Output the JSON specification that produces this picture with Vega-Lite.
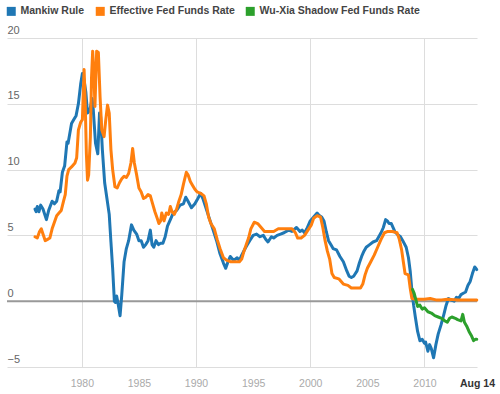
{
  "$schema": "https://vega.github.io/schema/vega-lite/v6.json",
  "width": 470,
  "height": 329,
  "autosize": {"type": "none"},
  "padding": {"left": 7, "top": 38, "right": 23, "bottom": 27},
  "background": "white",
  "config": {
    "view": {"stroke": null},
    "font": "Liberation Sans"
  },
  "data": {
    "values": [
      {"series":"Mankiw Rule","year":1975.9,"rate":7.0},
      {"series":"Mankiw Rule","year":1976.0,"rate":6.8},
      {"series":"Mankiw Rule","year":1976.1,"rate":7.2},
      {"series":"Mankiw Rule","year":1976.25,"rate":6.8},
      {"series":"Mankiw Rule","year":1976.4,"rate":7.3},
      {"series":"Mankiw Rule","year":1976.6,"rate":7.0},
      {"series":"Mankiw Rule","year":1976.9,"rate":6.2},
      {"series":"Mankiw Rule","year":1977.1,"rate":6.9},
      {"series":"Mankiw Rule","year":1977.4,"rate":7.6},
      {"series":"Mankiw Rule","year":1977.6,"rate":7.4},
      {"series":"Mankiw Rule","year":1977.8,"rate":7.6},
      {"series":"Mankiw Rule","year":1978.0,"rate":8.4},
      {"series":"Mankiw Rule","year":1978.1,"rate":8.3},
      {"series":"Mankiw Rule","year":1978.3,"rate":9.8},
      {"series":"Mankiw Rule","year":1978.5,"rate":10.3},
      {"series":"Mankiw Rule","year":1978.7,"rate":12.1},
      {"series":"Mankiw Rule","year":1978.8,"rate":12.0},
      {"series":"Mankiw Rule","year":1979.1,"rate":13.5},
      {"series":"Mankiw Rule","year":1979.3,"rate":13.8},
      {"series":"Mankiw Rule","year":1979.5,"rate":14.1},
      {"series":"Mankiw Rule","year":1979.7,"rate":15.0},
      {"series":"Mankiw Rule","year":1979.9,"rate":16.5},
      {"series":"Mankiw Rule","year":1980.05,"rate":17.3},
      {"series":"Mankiw Rule","year":1980.2,"rate":16.8},
      {"series":"Mankiw Rule","year":1980.35,"rate":15.9},
      {"series":"Mankiw Rule","year":1980.5,"rate":14.3},
      {"series":"Mankiw Rule","year":1980.7,"rate":14.5},
      {"series":"Mankiw Rule","year":1980.9,"rate":15.4},
      {"series":"Mankiw Rule","year":1981.0,"rate":14.6},
      {"series":"Mankiw Rule","year":1981.2,"rate":12.0},
      {"series":"Mankiw Rule","year":1981.4,"rate":11.2},
      {"series":"Mankiw Rule","year":1981.55,"rate":14.3},
      {"series":"Mankiw Rule","year":1981.65,"rate":14.0},
      {"series":"Mankiw Rule","year":1981.8,"rate":11.5},
      {"series":"Mankiw Rule","year":1982.0,"rate":9.0},
      {"series":"Mankiw Rule","year":1982.2,"rate":7.8},
      {"series":"Mankiw Rule","year":1982.4,"rate":6.6},
      {"series":"Mankiw Rule","year":1982.55,"rate":4.5},
      {"series":"Mankiw Rule","year":1982.7,"rate":2.5},
      {"series":"Mankiw Rule","year":1982.85,"rate":0.0},
      {"series":"Mankiw Rule","year":1982.95,"rate":-0.1},
      {"series":"Mankiw Rule","year":1983.05,"rate":0.4},
      {"series":"Mankiw Rule","year":1983.2,"rate":-0.3},
      {"series":"Mankiw Rule","year":1983.35,"rate":-1.1},
      {"series":"Mankiw Rule","year":1983.5,"rate":0.5},
      {"series":"Mankiw Rule","year":1983.7,"rate":3.0},
      {"series":"Mankiw Rule","year":1983.9,"rate":4.0},
      {"series":"Mankiw Rule","year":1984.1,"rate":4.6},
      {"series":"Mankiw Rule","year":1984.35,"rate":5.8},
      {"series":"Mankiw Rule","year":1984.55,"rate":5.4},
      {"series":"Mankiw Rule","year":1984.8,"rate":5.1},
      {"series":"Mankiw Rule","year":1985.0,"rate":4.6},
      {"series":"Mankiw Rule","year":1985.2,"rate":4.6},
      {"series":"Mankiw Rule","year":1985.4,"rate":4.1},
      {"series":"Mankiw Rule","year":1985.6,"rate":4.3},
      {"series":"Mankiw Rule","year":1985.8,"rate":4.6},
      {"series":"Mankiw Rule","year":1986.0,"rate":5.4},
      {"series":"Mankiw Rule","year":1986.15,"rate":4.3},
      {"series":"Mankiw Rule","year":1986.3,"rate":4.1},
      {"series":"Mankiw Rule","year":1986.5,"rate":4.6},
      {"series":"Mankiw Rule","year":1986.7,"rate":4.3},
      {"series":"Mankiw Rule","year":1986.9,"rate":4.4},
      {"series":"Mankiw Rule","year":1987.1,"rate":4.4},
      {"series":"Mankiw Rule","year":1987.3,"rate":4.9},
      {"series":"Mankiw Rule","year":1987.5,"rate":5.7},
      {"series":"Mankiw Rule","year":1987.8,"rate":6.3},
      {"series":"Mankiw Rule","year":1988.0,"rate":6.7},
      {"series":"Mankiw Rule","year":1988.3,"rate":6.9},
      {"series":"Mankiw Rule","year":1988.6,"rate":7.3},
      {"series":"Mankiw Rule","year":1988.9,"rate":7.4},
      {"series":"Mankiw Rule","year":1989.1,"rate":7.9},
      {"series":"Mankiw Rule","year":1989.3,"rate":7.6},
      {"series":"Mankiw Rule","year":1989.6,"rate":7.1},
      {"series":"Mankiw Rule","year":1989.9,"rate":7.4},
      {"series":"Mankiw Rule","year":1990.1,"rate":7.7},
      {"series":"Mankiw Rule","year":1990.4,"rate":8.2},
      {"series":"Mankiw Rule","year":1990.6,"rate":7.8},
      {"series":"Mankiw Rule","year":1990.9,"rate":7.0},
      {"series":"Mankiw Rule","year":1991.2,"rate":6.2},
      {"series":"Mankiw Rule","year":1991.5,"rate":5.4},
      {"series":"Mankiw Rule","year":1991.8,"rate":4.6},
      {"series":"Mankiw Rule","year":1992.1,"rate":3.6},
      {"series":"Mankiw Rule","year":1992.4,"rate":2.9},
      {"series":"Mankiw Rule","year":1992.6,"rate":2.5},
      {"series":"Mankiw Rule","year":1992.8,"rate":3.0},
      {"series":"Mankiw Rule","year":1993.0,"rate":3.4},
      {"series":"Mankiw Rule","year":1993.3,"rate":3.1},
      {"series":"Mankiw Rule","year":1993.6,"rate":3.3},
      {"series":"Mankiw Rule","year":1993.8,"rate":3.1},
      {"series":"Mankiw Rule","year":1994.0,"rate":3.5},
      {"series":"Mankiw Rule","year":1994.3,"rate":4.0},
      {"series":"Mankiw Rule","year":1994.5,"rate":4.3},
      {"series":"Mankiw Rule","year":1994.7,"rate":4.6},
      {"series":"Mankiw Rule","year":1995.0,"rate":5.0},
      {"series":"Mankiw Rule","year":1995.3,"rate":5.1},
      {"series":"Mankiw Rule","year":1995.6,"rate":4.9},
      {"series":"Mankiw Rule","year":1995.9,"rate":5.0},
      {"series":"Mankiw Rule","year":1996.1,"rate":4.7},
      {"series":"Mankiw Rule","year":1996.3,"rate":4.5},
      {"series":"Mankiw Rule","year":1996.6,"rate":4.9},
      {"series":"Mankiw Rule","year":1996.8,"rate":4.8},
      {"series":"Mankiw Rule","year":1997.1,"rate":5.0},
      {"series":"Mankiw Rule","year":1997.4,"rate":5.1},
      {"series":"Mankiw Rule","year":1997.7,"rate":5.2},
      {"series":"Mankiw Rule","year":1998.1,"rate":5.4},
      {"series":"Mankiw Rule","year":1998.4,"rate":5.3},
      {"series":"Mankiw Rule","year":1998.8,"rate":5.6},
      {"series":"Mankiw Rule","year":1999.1,"rate":5.3},
      {"series":"Mankiw Rule","year":1999.3,"rate":5.4},
      {"series":"Mankiw Rule","year":1999.5,"rate":5.2},
      {"series":"Mankiw Rule","year":1999.7,"rate":5.5},
      {"series":"Mankiw Rule","year":2000.0,"rate":6.1},
      {"series":"Mankiw Rule","year":2000.3,"rate":6.4},
      {"series":"Mankiw Rule","year":2000.6,"rate":6.7},
      {"series":"Mankiw Rule","year":2000.8,"rate":6.5},
      {"series":"Mankiw Rule","year":2001.0,"rate":6.4},
      {"series":"Mankiw Rule","year":2001.2,"rate":6.1},
      {"series":"Mankiw Rule","year":2001.4,"rate":5.3},
      {"series":"Mankiw Rule","year":2001.6,"rate":4.6},
      {"series":"Mankiw Rule","year":2001.8,"rate":4.3},
      {"series":"Mankiw Rule","year":2002.0,"rate":4.0},
      {"series":"Mankiw Rule","year":2002.3,"rate":3.9},
      {"series":"Mankiw Rule","year":2002.6,"rate":3.4},
      {"series":"Mankiw Rule","year":2002.9,"rate":3.0},
      {"series":"Mankiw Rule","year":2003.2,"rate":2.3},
      {"series":"Mankiw Rule","year":2003.4,"rate":1.9},
      {"series":"Mankiw Rule","year":2003.6,"rate":1.8},
      {"series":"Mankiw Rule","year":2003.8,"rate":1.9},
      {"series":"Mankiw Rule","year":2004.1,"rate":2.3},
      {"series":"Mankiw Rule","year":2004.3,"rate":2.9},
      {"series":"Mankiw Rule","year":2004.5,"rate":3.4},
      {"series":"Mankiw Rule","year":2004.7,"rate":3.8},
      {"series":"Mankiw Rule","year":2004.9,"rate":4.1},
      {"series":"Mankiw Rule","year":2005.2,"rate":4.3},
      {"series":"Mankiw Rule","year":2005.5,"rate":4.5},
      {"series":"Mankiw Rule","year":2005.8,"rate":4.6},
      {"series":"Mankiw Rule","year":2006.0,"rate":4.9},
      {"series":"Mankiw Rule","year":2006.2,"rate":5.2},
      {"series":"Mankiw Rule","year":2006.4,"rate":5.6},
      {"series":"Mankiw Rule","year":2006.6,"rate":6.2},
      {"series":"Mankiw Rule","year":2006.75,"rate":6.1},
      {"series":"Mankiw Rule","year":2006.9,"rate":5.9},
      {"series":"Mankiw Rule","year":2007.1,"rate":5.9},
      {"series":"Mankiw Rule","year":2007.4,"rate":5.3},
      {"series":"Mankiw Rule","year":2007.6,"rate":5.1},
      {"series":"Mankiw Rule","year":2007.9,"rate":4.9},
      {"series":"Mankiw Rule","year":2008.1,"rate":4.6},
      {"series":"Mankiw Rule","year":2008.4,"rate":4.1},
      {"series":"Mankiw Rule","year":2008.6,"rate":3.3},
      {"series":"Mankiw Rule","year":2008.75,"rate":2.3},
      {"series":"Mankiw Rule","year":2008.9,"rate":0.8},
      {"series":"Mankiw Rule","year":2009.05,"rate":-0.3},
      {"series":"Mankiw Rule","year":2009.2,"rate":-1.2},
      {"series":"Mankiw Rule","year":2009.4,"rate":-2.3},
      {"series":"Mankiw Rule","year":2009.6,"rate":-3.0},
      {"series":"Mankiw Rule","year":2009.8,"rate":-2.9},
      {"series":"Mankiw Rule","year":2010.0,"rate":-3.2},
      {"series":"Mankiw Rule","year":2010.1,"rate":-3.1},
      {"series":"Mankiw Rule","year":2010.3,"rate":-3.8},
      {"series":"Mankiw Rule","year":2010.45,"rate":-3.3},
      {"series":"Mankiw Rule","year":2010.6,"rate":-3.6},
      {"series":"Mankiw Rule","year":2010.8,"rate":-4.3},
      {"series":"Mankiw Rule","year":2011.0,"rate":-3.3},
      {"series":"Mankiw Rule","year":2011.2,"rate":-2.5},
      {"series":"Mankiw Rule","year":2011.45,"rate":-1.8},
      {"series":"Mankiw Rule","year":2011.7,"rate":-1.0},
      {"series":"Mankiw Rule","year":2011.9,"rate":-0.3},
      {"series":"Mankiw Rule","year":2012.1,"rate":0.2},
      {"series":"Mankiw Rule","year":2012.3,"rate":0.1},
      {"series":"Mankiw Rule","year":2012.6,"rate":0.0},
      {"series":"Mankiw Rule","year":2012.8,"rate":0.3},
      {"series":"Mankiw Rule","year":2013.0,"rate":0.2},
      {"series":"Mankiw Rule","year":2013.2,"rate":0.5},
      {"series":"Mankiw Rule","year":2013.4,"rate":0.6},
      {"series":"Mankiw Rule","year":2013.6,"rate":0.7},
      {"series":"Mankiw Rule","year":2013.8,"rate":1.2},
      {"series":"Mankiw Rule","year":2014.0,"rate":1.5},
      {"series":"Mankiw Rule","year":2014.2,"rate":2.1},
      {"series":"Mankiw Rule","year":2014.4,"rate":2.6},
      {"series":"Mankiw Rule","year":2014.5,"rate":2.5},
      {"series":"Mankiw Rule","year":2014.58,"rate":2.4},

      {"series":"Effective Fed Funds Rate","year":1975.9,"rate":4.9},
      {"series":"Effective Fed Funds Rate","year":1976.1,"rate":4.8},
      {"series":"Effective Fed Funds Rate","year":1976.3,"rate":5.3},
      {"series":"Effective Fed Funds Rate","year":1976.45,"rate":5.5},
      {"series":"Effective Fed Funds Rate","year":1976.6,"rate":5.1},
      {"series":"Effective Fed Funds Rate","year":1976.8,"rate":4.6},
      {"series":"Effective Fed Funds Rate","year":1977.0,"rate":4.7},
      {"series":"Effective Fed Funds Rate","year":1977.2,"rate":4.8},
      {"series":"Effective Fed Funds Rate","year":1977.4,"rate":5.5},
      {"series":"Effective Fed Funds Rate","year":1977.6,"rate":6.0},
      {"series":"Effective Fed Funds Rate","year":1977.8,"rate":6.5},
      {"series":"Effective Fed Funds Rate","year":1978.0,"rate":6.7},
      {"series":"Effective Fed Funds Rate","year":1978.2,"rate":6.9},
      {"series":"Effective Fed Funds Rate","year":1978.4,"rate":7.6},
      {"series":"Effective Fed Funds Rate","year":1978.55,"rate":8.1},
      {"series":"Effective Fed Funds Rate","year":1978.7,"rate":9.5},
      {"series":"Effective Fed Funds Rate","year":1978.85,"rate":10.0},
      {"series":"Effective Fed Funds Rate","year":1979.1,"rate":10.2},
      {"series":"Effective Fed Funds Rate","year":1979.4,"rate":10.5},
      {"series":"Effective Fed Funds Rate","year":1979.55,"rate":10.9},
      {"series":"Effective Fed Funds Rate","year":1979.7,"rate":13.0},
      {"series":"Effective Fed Funds Rate","year":1979.9,"rate":13.6},
      {"series":"Effective Fed Funds Rate","year":1980.05,"rate":13.8},
      {"series":"Effective Fed Funds Rate","year":1980.2,"rate":17.6},
      {"series":"Effective Fed Funds Rate","year":1980.3,"rate":15.0},
      {"series":"Effective Fed Funds Rate","year":1980.4,"rate":11.2},
      {"series":"Effective Fed Funds Rate","year":1980.5,"rate":9.2},
      {"series":"Effective Fed Funds Rate","year":1980.6,"rate":9.6},
      {"series":"Effective Fed Funds Rate","year":1980.75,"rate":12.5},
      {"series":"Effective Fed Funds Rate","year":1980.85,"rate":17.0},
      {"series":"Effective Fed Funds Rate","year":1980.95,"rate":19.0},
      {"series":"Effective Fed Funds Rate","year":1981.05,"rate":17.5},
      {"series":"Effective Fed Funds Rate","year":1981.15,"rate":14.8},
      {"series":"Effective Fed Funds Rate","year":1981.3,"rate":19.0},
      {"series":"Effective Fed Funds Rate","year":1981.45,"rate":18.9},
      {"series":"Effective Fed Funds Rate","year":1981.6,"rate":15.5},
      {"series":"Effective Fed Funds Rate","year":1981.75,"rate":13.0},
      {"series":"Effective Fed Funds Rate","year":1981.95,"rate":12.5},
      {"series":"Effective Fed Funds Rate","year":1982.1,"rate":13.8},
      {"series":"Effective Fed Funds Rate","year":1982.25,"rate":14.9},
      {"series":"Effective Fed Funds Rate","year":1982.4,"rate":14.3},
      {"series":"Effective Fed Funds Rate","year":1982.55,"rate":11.5},
      {"series":"Effective Fed Funds Rate","year":1982.7,"rate":10.0},
      {"series":"Effective Fed Funds Rate","year":1982.9,"rate":8.7},
      {"series":"Effective Fed Funds Rate","year":1983.1,"rate":8.6},
      {"series":"Effective Fed Funds Rate","year":1983.3,"rate":9.0},
      {"series":"Effective Fed Funds Rate","year":1983.5,"rate":9.3},
      {"series":"Effective Fed Funds Rate","year":1983.7,"rate":9.5},
      {"series":"Effective Fed Funds Rate","year":1983.9,"rate":9.4},
      {"series":"Effective Fed Funds Rate","year":1984.1,"rate":9.7},
      {"series":"Effective Fed Funds Rate","year":1984.3,"rate":10.5},
      {"series":"Effective Fed Funds Rate","year":1984.45,"rate":11.6},
      {"series":"Effective Fed Funds Rate","year":1984.6,"rate":10.5},
      {"series":"Effective Fed Funds Rate","year":1984.8,"rate":9.6},
      {"series":"Effective Fed Funds Rate","year":1985.0,"rate":8.6},
      {"series":"Effective Fed Funds Rate","year":1985.2,"rate":8.3},
      {"series":"Effective Fed Funds Rate","year":1985.4,"rate":7.8},
      {"series":"Effective Fed Funds Rate","year":1985.6,"rate":7.9},
      {"series":"Effective Fed Funds Rate","year":1985.8,"rate":8.1},
      {"series":"Effective Fed Funds Rate","year":1986.0,"rate":8.0},
      {"series":"Effective Fed Funds Rate","year":1986.2,"rate":7.4},
      {"series":"Effective Fed Funds Rate","year":1986.4,"rate":6.8},
      {"series":"Effective Fed Funds Rate","year":1986.6,"rate":6.3},
      {"series":"Effective Fed Funds Rate","year":1986.75,"rate":5.9},
      {"series":"Effective Fed Funds Rate","year":1986.9,"rate":6.1},
      {"series":"Effective Fed Funds Rate","year":1987.0,"rate":6.7},
      {"series":"Effective Fed Funds Rate","year":1987.2,"rate":6.1},
      {"series":"Effective Fed Funds Rate","year":1987.4,"rate":6.7},
      {"series":"Effective Fed Funds Rate","year":1987.6,"rate":6.6},
      {"series":"Effective Fed Funds Rate","year":1987.75,"rate":7.2},
      {"series":"Effective Fed Funds Rate","year":1987.9,"rate":6.8},
      {"series":"Effective Fed Funds Rate","year":1988.1,"rate":6.6},
      {"series":"Effective Fed Funds Rate","year":1988.3,"rate":7.0},
      {"series":"Effective Fed Funds Rate","year":1988.5,"rate":7.6},
      {"series":"Effective Fed Funds Rate","year":1988.7,"rate":8.1},
      {"series":"Effective Fed Funds Rate","year":1988.9,"rate":8.9},
      {"series":"Effective Fed Funds Rate","year":1989.15,"rate":9.8},
      {"series":"Effective Fed Funds Rate","year":1989.3,"rate":9.6},
      {"series":"Effective Fed Funds Rate","year":1989.5,"rate":9.1},
      {"series":"Effective Fed Funds Rate","year":1989.7,"rate":8.8},
      {"series":"Effective Fed Funds Rate","year":1989.9,"rate":8.5},
      {"series":"Effective Fed Funds Rate","year":1990.1,"rate":8.3},
      {"series":"Effective Fed Funds Rate","year":1990.4,"rate":8.2},
      {"series":"Effective Fed Funds Rate","year":1990.7,"rate":8.0},
      {"series":"Effective Fed Funds Rate","year":1990.9,"rate":7.4},
      {"series":"Effective Fed Funds Rate","year":1991.1,"rate":6.4},
      {"series":"Effective Fed Funds Rate","year":1991.3,"rate":5.9},
      {"series":"Effective Fed Funds Rate","year":1991.6,"rate":5.5},
      {"series":"Effective Fed Funds Rate","year":1991.85,"rate":4.7},
      {"series":"Effective Fed Funds Rate","year":1992.1,"rate":4.0},
      {"series":"Effective Fed Funds Rate","year":1992.4,"rate":3.3},
      {"series":"Effective Fed Funds Rate","year":1992.7,"rate":3.1},
      {"series":"Effective Fed Funds Rate","year":1993.0,"rate":3.0},
      {"series":"Effective Fed Funds Rate","year":1993.4,"rate":3.0},
      {"series":"Effective Fed Funds Rate","year":1993.8,"rate":3.0},
      {"series":"Effective Fed Funds Rate","year":1994.0,"rate":3.2},
      {"series":"Effective Fed Funds Rate","year":1994.2,"rate":3.8},
      {"series":"Effective Fed Funds Rate","year":1994.4,"rate":4.3},
      {"series":"Effective Fed Funds Rate","year":1994.6,"rate":4.8},
      {"series":"Effective Fed Funds Rate","year":1994.8,"rate":5.5},
      {"series":"Effective Fed Funds Rate","year":1995.1,"rate":6.0},
      {"series":"Effective Fed Funds Rate","year":1995.4,"rate":5.9},
      {"series":"Effective Fed Funds Rate","year":1995.7,"rate":5.6},
      {"series":"Effective Fed Funds Rate","year":1996.0,"rate":5.3},
      {"series":"Effective Fed Funds Rate","year":1996.4,"rate":5.3},
      {"series":"Effective Fed Funds Rate","year":1996.8,"rate":5.3},
      {"series":"Effective Fed Funds Rate","year":1997.2,"rate":5.5},
      {"series":"Effective Fed Funds Rate","year":1997.6,"rate":5.5},
      {"series":"Effective Fed Funds Rate","year":1998.0,"rate":5.5},
      {"series":"Effective Fed Funds Rate","year":1998.4,"rate":5.5},
      {"series":"Effective Fed Funds Rate","year":1998.7,"rate":5.2},
      {"series":"Effective Fed Funds Rate","year":1998.9,"rate":4.8},
      {"series":"Effective Fed Funds Rate","year":1999.2,"rate":4.8},
      {"series":"Effective Fed Funds Rate","year":1999.5,"rate":5.0},
      {"series":"Effective Fed Funds Rate","year":1999.8,"rate":5.4},
      {"series":"Effective Fed Funds Rate","year":2000.1,"rate":5.8},
      {"series":"Effective Fed Funds Rate","year":2000.3,"rate":6.3},
      {"series":"Effective Fed Funds Rate","year":2000.6,"rate":6.5},
      {"series":"Effective Fed Funds Rate","year":2000.9,"rate":6.4},
      {"series":"Effective Fed Funds Rate","year":2001.1,"rate":5.6},
      {"series":"Effective Fed Funds Rate","year":2001.3,"rate":4.6},
      {"series":"Effective Fed Funds Rate","year":2001.5,"rate":3.8},
      {"series":"Effective Fed Funds Rate","year":2001.7,"rate":3.2},
      {"series":"Effective Fed Funds Rate","year":2001.9,"rate":2.1},
      {"series":"Effective Fed Funds Rate","year":2002.1,"rate":1.8},
      {"series":"Effective Fed Funds Rate","year":2002.5,"rate":1.7},
      {"series":"Effective Fed Funds Rate","year":2002.9,"rate":1.3},
      {"series":"Effective Fed Funds Rate","year":2003.3,"rate":1.2},
      {"series":"Effective Fed Funds Rate","year":2003.6,"rate":1.0},
      {"series":"Effective Fed Funds Rate","year":2004.0,"rate":1.0},
      {"series":"Effective Fed Funds Rate","year":2004.4,"rate":1.0},
      {"series":"Effective Fed Funds Rate","year":2004.6,"rate":1.3},
      {"series":"Effective Fed Funds Rate","year":2004.8,"rate":2.0},
      {"series":"Effective Fed Funds Rate","year":2005.0,"rate":2.5},
      {"series":"Effective Fed Funds Rate","year":2005.3,"rate":3.0},
      {"series":"Effective Fed Funds Rate","year":2005.6,"rate":3.5},
      {"series":"Effective Fed Funds Rate","year":2005.9,"rate":4.1},
      {"series":"Effective Fed Funds Rate","year":2006.2,"rate":4.7},
      {"series":"Effective Fed Funds Rate","year":2006.5,"rate":5.2},
      {"series":"Effective Fed Funds Rate","year":2006.8,"rate":5.3},
      {"series":"Effective Fed Funds Rate","year":2007.2,"rate":5.3},
      {"series":"Effective Fed Funds Rate","year":2007.6,"rate":5.2},
      {"series":"Effective Fed Funds Rate","year":2007.8,"rate":4.7},
      {"series":"Effective Fed Funds Rate","year":2008.0,"rate":3.9},
      {"series":"Effective Fed Funds Rate","year":2008.15,"rate":3.0},
      {"series":"Effective Fed Funds Rate","year":2008.3,"rate":2.1},
      {"series":"Effective Fed Funds Rate","year":2008.6,"rate":2.0},
      {"series":"Effective Fed Funds Rate","year":2008.75,"rate":1.0},
      {"series":"Effective Fed Funds Rate","year":2008.9,"rate":0.2},
      {"series":"Effective Fed Funds Rate","year":2009.2,"rate":0.15},
      {"series":"Effective Fed Funds Rate","year":2010.0,"rate":0.15},
      {"series":"Effective Fed Funds Rate","year":2010.5,"rate":0.2},
      {"series":"Effective Fed Funds Rate","year":2011.0,"rate":0.1},
      {"series":"Effective Fed Funds Rate","year":2011.5,"rate":0.1},
      {"series":"Effective Fed Funds Rate","year":2012.0,"rate":0.15},
      {"series":"Effective Fed Funds Rate","year":2013.0,"rate":0.1},
      {"series":"Effective Fed Funds Rate","year":2014.0,"rate":0.1},
      {"series":"Effective Fed Funds Rate","year":2014.58,"rate":0.1},

      {"series":"Wu-Xia Shadow Fed Funds Rate","year":2008.95,"rate":0.9},
      {"series":"Wu-Xia Shadow Fed Funds Rate","year":2009.1,"rate":0.6},
      {"series":"Wu-Xia Shadow Fed Funds Rate","year":2009.25,"rate":0.1},
      {"series":"Wu-Xia Shadow Fed Funds Rate","year":2009.4,"rate":-0.4},
      {"series":"Wu-Xia Shadow Fed Funds Rate","year":2009.6,"rate":-0.3},
      {"series":"Wu-Xia Shadow Fed Funds Rate","year":2009.8,"rate":-0.6},
      {"series":"Wu-Xia Shadow Fed Funds Rate","year":2010.0,"rate":-0.5},
      {"series":"Wu-Xia Shadow Fed Funds Rate","year":2010.3,"rate":-0.8},
      {"series":"Wu-Xia Shadow Fed Funds Rate","year":2010.6,"rate":-0.9},
      {"series":"Wu-Xia Shadow Fed Funds Rate","year":2010.9,"rate":-1.1},
      {"series":"Wu-Xia Shadow Fed Funds Rate","year":2011.2,"rate":-1.2},
      {"series":"Wu-Xia Shadow Fed Funds Rate","year":2011.5,"rate":-1.3},
      {"series":"Wu-Xia Shadow Fed Funds Rate","year":2011.8,"rate":-1.5},
      {"series":"Wu-Xia Shadow Fed Funds Rate","year":2012.0,"rate":-1.6},
      {"series":"Wu-Xia Shadow Fed Funds Rate","year":2012.2,"rate":-1.3},
      {"series":"Wu-Xia Shadow Fed Funds Rate","year":2012.4,"rate":-1.2},
      {"series":"Wu-Xia Shadow Fed Funds Rate","year":2012.7,"rate":-1.3},
      {"series":"Wu-Xia Shadow Fed Funds Rate","year":2012.9,"rate":-1.4},
      {"series":"Wu-Xia Shadow Fed Funds Rate","year":2013.2,"rate":-1.5},
      {"series":"Wu-Xia Shadow Fed Funds Rate","year":2013.35,"rate":-1.0},
      {"series":"Wu-Xia Shadow Fed Funds Rate","year":2013.5,"rate":-1.6},
      {"series":"Wu-Xia Shadow Fed Funds Rate","year":2013.7,"rate":-1.9},
      {"series":"Wu-Xia Shadow Fed Funds Rate","year":2013.9,"rate":-2.3},
      {"series":"Wu-Xia Shadow Fed Funds Rate","year":2014.1,"rate":-2.6},
      {"series":"Wu-Xia Shadow Fed Funds Rate","year":2014.3,"rate":-3.0},
      {"series":"Wu-Xia Shadow Fed Funds Rate","year":2014.45,"rate":-2.9},
      {"series":"Wu-Xia Shadow Fed Funds Rate","year":2014.58,"rate":-2.9}
    ]
  },
  "layer": [
    {
      "data": {"values": [{"level": 0}]},
      "mark": {"type": "rule", "color": "#999999", "strokeWidth": 2},
      "encoding": {"y": {"field": "level", "type": "quantitative", "scale": {"domain": [-5, 20], "nice": false}}}
    },
    {
      "mark": {"type": "line", "strokeWidth": 3, "strokeJoin": "round", "strokeCap": "round"},
      "encoding": {
        "x": {
          "field": "year", "type": "quantitative",
          "scale": {"domain": [1973.45, 2014.6], "nice": false, "zero": false},
          "axis": {
            "title": null, "domain": false, "ticks": false,
            "values": [1980, 1985, 1990, 1995, 2000, 2005, 2010, 2014.6],
            "labelExpr": "datum.value > 2014 ? 'Aug 14' : format(datum.value, 'd')",
            "labelFlush": false, "labelOverlap": false, "labelBound": false,
            "labelPadding": 11, "labelFontSize": 10.5, "labelFont": "Liberation Sans",
            "labelColor": {"condition": {"test": "datum.value > 2014", "value": "#333333"}, "value": "#aaaaaa"},
            "labelFontWeight": {"condition": {"test": "datum.value > 2014", "value": "bold"}, "value": "normal"},
            "gridColor": "#dddddd",
            "gridOpacity": {"condition": {"test": "datum.value % 10 == 0", "value": 1}, "value": 0}
          }
        },
        "y": {
          "field": "rate", "type": "quantitative",
          "scale": {"domain": [-5, 20], "nice": false},
          "axis": {
            "title": null, "domain": false, "ticks": false,
            "values": [-5, 0, 5, 10, 15, 20],
            "labelAlign": "left", "labelBaseline": "alphabetic", "labelPadding": 0, "labelOffset": -5,
            "labelFontSize": 11, "labelFont": "Liberation Sans", "labelColor": "#666666",
            "gridColor": "#dddddd"
          }
        },
        "color": {
          "field": "series", "type": "nominal",
          "scale": {
            "domain": ["Mankiw Rule", "Effective Fed Funds Rate", "Wu-Xia Shadow Fed Funds Rate"],
            "range": ["#1f77b4", "#ff7f0e", "#2ca02c"]
          },
          "legend": {
            "title": null, "orient": "none", "legendX": -1, "legendY": -32, "direction": "horizontal",
            "padding": 0, "symbolType": "square", "symbolSize": 81, "symbolStrokeWidth": 0,
            "labelFont": "Liberation Sans", "labelFontSize": 10.5, "labelFontWeight": "bold", "labelColor": "#444444",
            "labelOffset": 4, "columnPadding": 10, "labelLimit": 0,
            "encode": {"symbols": {"update": {"fill": {"scale": "color", "field": "value"}, "opacity": {"value": 1}}}}
          }
        }
      }
    }
  ]
}
